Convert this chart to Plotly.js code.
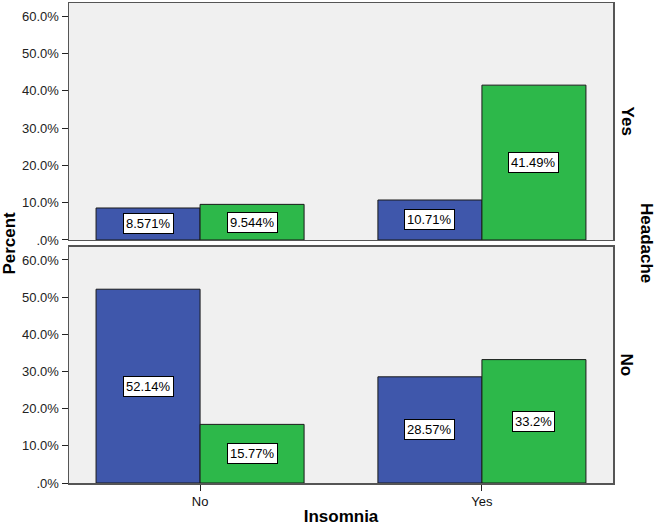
<!DOCTYPE html>
<html><head><meta charset="utf-8">
<script src="https://cdn.plot.ly/plotly-3.0.1.min.js"></script>
<style>body{margin:0;background:#fff}#c{width:661px;height:527px}</style>
</head><body><div id="c"></div>
<script>
const insomnia = ["No", "Yes"];
const headacheYesBlue = [8.571, 10.71];
const headacheYesGreen = [9.544, 41.49];
const headacheNoBlue = [52.14, 28.57];
const headacheNoGreen = [15.77, 33.2];
const labelsYesBlue = ["8.571%", "10.71%"];
const labelsYesGreen = ["9.544%", "41.49%"];
const labelsNoBlue = ["52.14%", "28.57%"];
const labelsNoGreen = ["15.77%", "33.2%"];
const yTickVals = [0, 10, 20, 30, 40, 50, 60];
const yTickText = [".0%", "10.0%", "20.0%", "30.0%", "40.0%", "50.0%", "60.0%"];
const panelLabels = ["Yes", "No"];

const BLUE = "#3F57AB", GREEN = "#2DB84A";
const font = {family: "Liberation Sans, Arial, sans-serif", color: "#111"};
function bar(vals, color, xa, ya) {
  return {type: "bar", x: insomnia, y: vals, xaxis: xa, yaxis: ya,
    marker: {color: color, line: {color: "#1a1a1a", width: 1}}, hoverinfo: "skip", showlegend: false};
}
const data = [
  bar(headacheYesBlue, BLUE, "x", "y"),
  bar(headacheYesGreen, GREEN, "x", "y"),
  bar(headacheNoBlue, BLUE, "x2", "y2"),
  bar(headacheNoGreen, GREEN, "x2", "y2")
];
const annotations = [];
function labs(vals, texts, xa, ya, shift) {
  vals.forEach((v, i) => annotations.push({
    x: insomnia[i], y: v / 2, xref: xa, yref: ya, text: texts[i], showarrow: false,
    xshift: shift, bgcolor: "#fff", bordercolor: "#000", borderwidth: 1, borderpad: 2,
    font: {family: font.family, size: 13, color: "#000"}
  }));
}
labs(headacheYesBlue, labelsYesBlue, "x", "y", -52);
labs(headacheYesGreen, labelsYesGreen, "x", "y", 52);
labs(headacheNoBlue, labelsNoBlue, "x2", "y2", -52);
labs(headacheNoGreen, labelsNoGreen, "x2", "y2", 52);
const tf = {family: font.family, size: 17, color: "#000"};
annotations.push({xref: "paper", yref: "paper", x: 1.0257, y: 0.753, xanchor: "center", yanchor: "middle",
  text: "<b>" + panelLabels[0] + "</b>", showarrow: false, textangle: 90, font: tf});
annotations.push({xref: "paper", yref: "paper", x: 1.0257, y: 0.245, xanchor: "center", yanchor: "middle",
  text: "<b>" + panelLabels[1] + "</b>", showarrow: false, textangle: 90, font: tf});
annotations.push({xref: "paper", yref: "paper", x: 1.0625, y: 0.5, xanchor: "center", yanchor: "middle",
  text: "<b>Headache</b>", showarrow: false, textangle: 90, font: tf});
annotations.push({xref: "paper", yref: "paper", x: -0.111, y: 0.5, xanchor: "center", yanchor: "middle",
  text: "<b>Percent</b>", showarrow: false, textangle: -90, font: tf});

const yaxisBase = {range: [0, 63.5], tickvals: yTickVals, ticktext: yTickText, ticks: "outside",
  ticklen: 6, tickcolor: "#222", showgrid: false, zeroline: false, showline: true, linecolor: "#555",
  linewidth: 1.5, mirror: true, tickfont: {family: font.family, size: 13, color: "#222"}, fixedrange: true};
const xaxisBase = {range: [-0.465, 1.465], showgrid: false, zeroline: false, showline: true,
  linecolor: "#555", linewidth: 1.5, mirror: true, fixedrange: true,
  tickfont: {family: font.family, size: 13, color: "#111"}};

const layout = {
  width: 661, height: 527,
  margin: {l: 69, r: 48, t: 3, b: 44},
  paper_bgcolor: "#fff", plot_bgcolor: "#F0F0F0",
  barmode: "group", bargap: 0.262, bargroupgap: 0,
  font: font,
  xaxis: Object.assign({}, xaxisBase, {domain: [0, 1], anchor: "y", showticklabels: false, ticks: ""}),
  yaxis: Object.assign({}, yaxisBase, {domain: [0.5063, 1], anchor: "x"}),
  xaxis2: Object.assign({}, xaxisBase, {domain: [0, 1], anchor: "y2", ticks: "outside", ticklen: 6,
    tickcolor: "#222", title: {text: "<b>Insomnia</b>", font: tf, standoff: 2}}),
  yaxis2: Object.assign({}, yaxisBase, {domain: [0, 0.4917], anchor: "x2"}),
  annotations: annotations
};
Plotly.newPlot("c", data, layout, {displayModeBar: false, staticPlot: true});
</script></body></html>
